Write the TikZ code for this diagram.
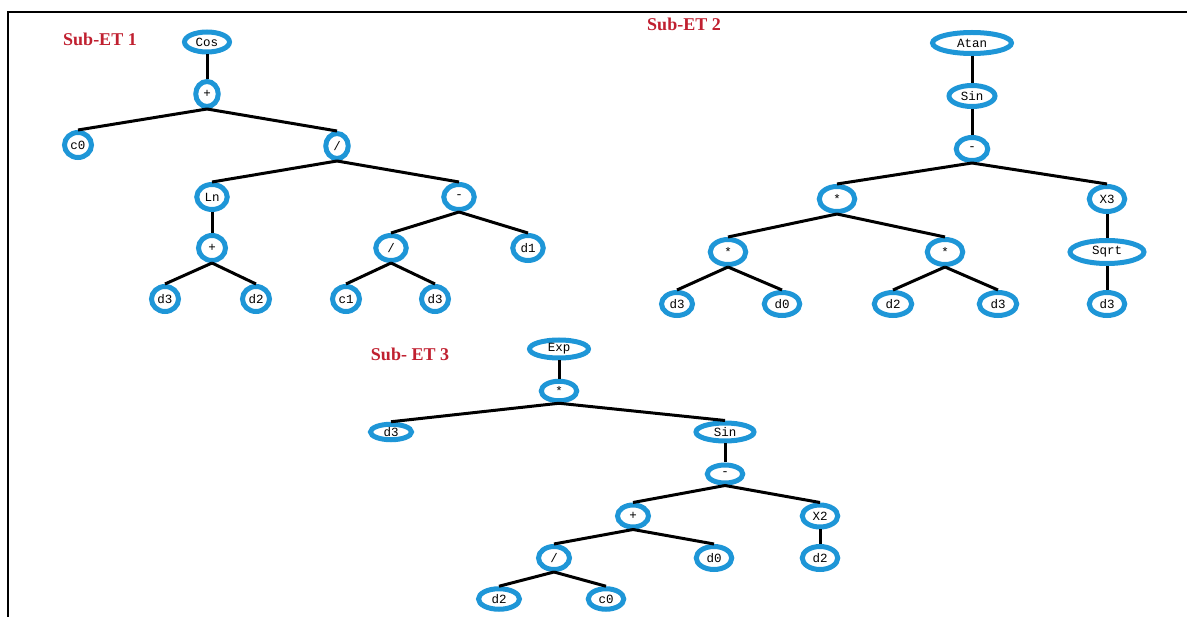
\documentclass[tikz,border=0pt]{standalone}
\usepackage{fontspec}
\setmainfont{Liberation Serif}
\setmonofont{Liberation Mono}
\usetikzlibrary{shapes.geometric}
\definecolor{ringblue}{RGB}{30,150,215}
\definecolor{labelred}{RGB}{192,32,48}
\tikzset{
  tn/.style={ellipse, draw=ringblue, line width=5pt, inner sep=0pt,
    minimum width=27pt, minimum height=25pt,
    font=\fontsize{12.5}{14}\selectfont\ttfamily},
  tnwide/.style={tn, minimum width=35.5pt},
  tnflat/.style={tn, minimum width=35.5pt, minimum height=19.5pt},
  link/.style={line width=3pt},
  title/.style={text=labelred, font=\fontsize{18}{21}\selectfont\bfseries}
}
\begin{document}
\begin{tikzpicture}[x=1pt,y=-1pt]
\useasboundingbox (0,0) rectangle (1187,617);
% Frame
\draw[line width=2pt] (1187,12) -- (8,12) -- (8,617);

% Sub-ET 1
\node[title] (lblA) at (100,39) {Sub-ET 1};
\node[tn, minimum width=45pt, minimum height=20pt] (cosA) at (207,42) {Cos};
\node[tn, minimum width=22.5pt] (plusA) at (207,94) {+};
\node[tn] (cA0) at (78,145) {c0};
\node[tn, minimum width=22.5pt] (divA) at (337,146) {/};
\node[tn, minimum width=30.5pt] (lnA) at (212,197) {Ln};
\node[tn, minimum width=30.5pt] (minA) at (459,197) {-};
\node[tn] (plusB) at (212,248) {+};
\node[tn, minimum width=30.5pt] (divB) at (391,248) {/};
\node[tn, minimum width=30.5pt] (dA1) at (528,248) {d1};
\node[tn] (dA3) at (165,299) {d3};
\node[tn] (dA2) at (256,299) {d2};
\node[tn] (cA1) at (346,299) {c1};
\node[tn] (dA3b) at (435,299) {d3};
\foreach \a/\b in {cosA/plusA, plusA/cA0, plusA/divA, divA/lnA, divA/minA,
    lnA/plusB, plusB/dA3, plusB/dA2, minA/divB, minA/dA1, divB/cA1, divB/dA3b}
  \draw[link] (\a.south) -- (\b.north);

% Sub-ET 2
\node[title] (lblB) at (684,24) {Sub-ET 2};
\node[tn, minimum width=79pt, minimum height=21pt] (atanB) at (972,43) {Atan};
\node[tn, minimum width=46pt, minimum height=21pt] (sinB) at (972,96) {Sin};
\node[tnwide, minimum width=31.5pt, minimum height=23pt] (minB) at (972,149) {-};
\node[tnwide] (mulB) at (837,199) {*};
\node[tnwide] (xB3) at (1107,199) {X3};
\node[tnwide] (mulC) at (728,252) {*};
\node[tnwide] (mulD) at (945,252) {*};
\node[tn, minimum width=74pt, minimum height=23pt] (sqrtB) at (1107,252) {Sqrt};
\node[tn, minimum width=31pt, minimum height=23pt] (dB3) at (677,304) {d3};
\node[tnwide, minimum height=23pt] (dB0) at (782,304) {d0};
\node[tnwide, minimum width=37.5pt, minimum height=23pt] (dB2) at (893,304) {d2};
\node[tnwide, minimum width=37.5pt, minimum height=23pt] (dB3b) at (998,304) {d3};
\node[tnwide, minimum height=23pt] (dB3c) at (1107,304) {d3};
\foreach \a/\b in {atanB/sinB, sinB/minB, minB/mulB, minB/xB3, mulB/mulC,
    mulB/mulD, mulC/dB3, mulC/dB0, mulD/dB2, mulD/dB3b, xB3/sqrtB, sqrtB/dB3c}
  \draw[link] (\a.south) -- (\b.north);

% Sub-ET 3
\node[title] (lblC) at (410,354) {Sub- ET 3};
\node[tn, minimum width=59pt, minimum height=18pt] (expC) at (559,349) {Exp};
\node[tnflat] (mulE) at (559,391) {*};
\node[tnflat, minimum width=41pt, minimum height=15.5pt] (dC3) at (391,432) {d3};
\node[tnflat, minimum width=58pt, minimum height=18pt] (sinC) at (725,432) {Sin};
\node[tnflat, minimum height=18pt] (minC) at (725,474) {-};
\node[tnflat, minimum width=31pt, minimum height=22pt] (plusC) at (633,516) {+};
\node[tnflat, minimum height=22pt] (xC2) at (820,516) {X2};
\node[tnflat, minimum width=31pt, minimum height=23pt] (divC) at (554,558) {/};
\node[tnflat, minimum height=23pt] (dC0) at (714,558) {d0};
\node[tnflat, minimum height=23pt] (dC2) at (820,558) {d2};
\node[tnflat, minimum width=41pt, minimum height=20.5pt] (dC2b) at (499,599) {d2};
\node[tnflat, minimum height=20.5pt] (cC0) at (606,599) {c0};
\foreach \a/\b in {expC/mulE, mulE/dC3, mulE/sinC, sinC/minC, minC/plusC,
    minC/xC2, plusC/divC, plusC/dC0, xC2/dC2, divC/dC2b, divC/cC0}
  \draw[link] (\a.south) -- (\b.north);
\end{tikzpicture}
\end{document}
